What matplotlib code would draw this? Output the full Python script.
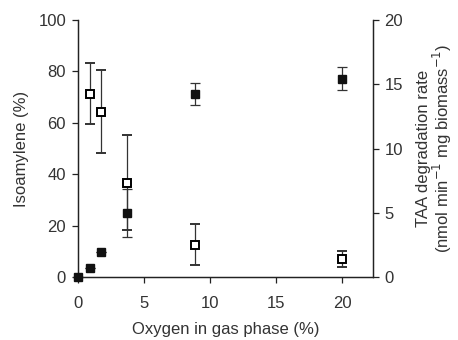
import matplotlib.pyplot as plt

plt.rcParams['font.family'] = ['Liberation Sans', 'DejaVu Sans']
plt.rcParams['font.size'] = 12

# isoamylene (%) - open squares, left axis
iso_x = [0.93, 1.74, 3.74, 8.84, 20.0]
iso_y = [71.4, 64.4, 36.8, 12.6, 7.1]
iso_err = [12.0, 16.2, 18.3, 8.0, 3.0]

# TAA degradation rate - filled squares, right axis
taa_x = [0.0, 0.93, 1.74, 3.74, 8.84, 20.0]
taa_y = [0.0, 0.70, 1.92, 4.97, 14.27, 15.44]
taa_err = [0.0, 0.0, 0.0, 1.87, 0.87, 0.87]

text_col = '#333333'

fig = plt.figure(figsize=(4.58, 3.40), dpi=100)
ax = fig.add_subplot(111)
fig.subplots_adjust(left=0.170, right=0.814, bottom=0.185, top=0.941)
ax2 = ax.twinx()

ax.errorbar(iso_x, iso_y, yerr=iso_err, fmt='s', mfc='white', mec='black',
            mew=1.4, ms=6.2, ecolor='#333333', elinewidth=0.9, capsize=3.5,
            capthick=0.9, clip_on=False, zorder=3)
ax2.errorbar(taa_x, taa_y, yerr=taa_err, fmt='s', mfc='#111111', mec='#111111',
             ms=6.2, ecolor='#333333', elinewidth=0.9, capsize=3.5,
             capthick=0.9, clip_on=False, zorder=3)

ax.set_xlim(0, 22.3)
ax.set_ylim(0, 100)
ax2.set_ylim(0, 20)
ax.set_xticks([0, 5, 10, 15, 20])
ax.set_yticks([0, 20, 40, 60, 80, 100])
ax2.set_yticks([0, 5, 10, 15, 20])

for a in (ax, ax2):
    a.spines['top'].set_visible(False)
    for s in a.spines.values():
        s.set_color('#222222')
        s.set_linewidth(0.9)
    a.tick_params(direction='out', length=4.5, width=0.9, colors='#222222',
                  labelcolor=text_col, labelsize=12, pad=4)
ax.tick_params(axis='x', pad=9)

ax.set_xlabel('Oxygen in gas phase (%)', color=text_col, fontsize=12, labelpad=8)
ax.set_ylabel('Isoamylene (%)', color=text_col, fontsize=12, labelpad=7)
ax2.set_ylabel('TAA degradation rate\n(nmol min$^{-1}$ mg biomass$^{-1}$)',
               color=text_col, fontsize=12, labelpad=9, linespacing=1.0)

fig.savefig('out.png', dpi=100)
